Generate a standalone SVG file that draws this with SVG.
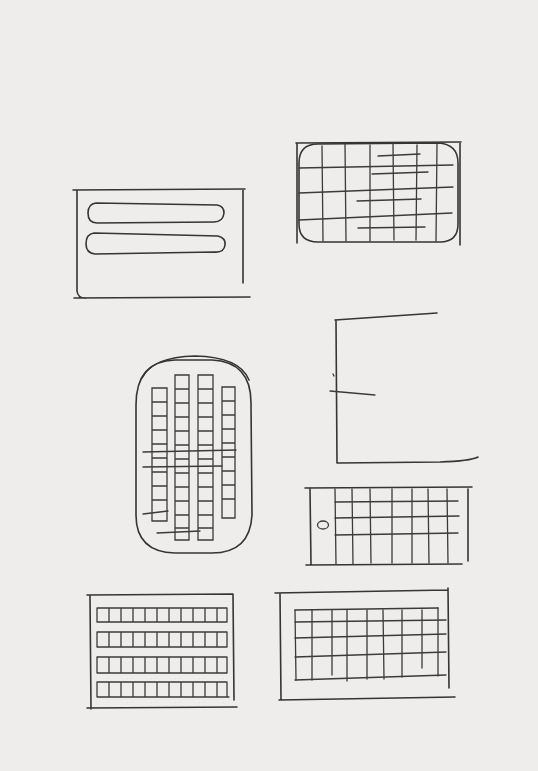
<svg xmlns="http://www.w3.org/2000/svg" width="538" height="771" viewBox="0 0 538 771">
<style>
.s{fill:none;stroke:#363434;stroke-width:1.6;stroke-linecap:round;stroke-linejoin:round}
.t{fill:none;stroke:#3c3a3a;stroke-width:1.3;stroke-linecap:round}
</style>
<rect width="538" height="771" fill="#efecec"/>
<g id="list-card">
<path class="s" d="M73,190 L245,189 M77,190 L77,291 Q78,299 87,298 M74,298 L250,297 M243,190 L243,283"/>
<path class="s" d="M96,203 L217,205 Q224,206 224,213 Q223,222 214,222 L97,223 Q88,223 88,213 Q88,204 96,203 Z"/>
<path class="s" d="M94,233 L218,236 Q226,238 225,245 Q224,253 214,252 L95,254 Q86,253 86,244 Q86,234 94,233 Z"/>
</g>
<g id="rounded-grid">
<path class="s" d="M318,144 L438,143 Q458,144 458,163 L458,224 Q458,242 440,242 L318,242 Q299,242 299,224 L299,163 Q299,144 318,144 Z"/>
<path class="s" d="M296,143 L461,142 M297,143 L297,243 M460,143 L460,245"/>
<path class="t" d="M322,146 L323,241 M345,144 L346,241 M370,145 L370,241 M393,144 L394,240 M417,145 L416,240 M437,144 L436,241"/>
<path class="t" d="M299,168 L453,165 M299,193 L453,187 M299,220 L452,213"/>
<path class="t" d="M378,156 L420,154 M372,174 L428,172 M357,201 L421,199 M358,228 L425,227"/>
</g>
<g id="pill-grid">
<path class="s" d="M175,360 L212,360 Q252,362 251,405 L252,515 Q250,553 212,553 L175,553 Q136,552 136,515 L136,405 Q136,361 175,360 Z"/>
<path class="s" d="M142,378 Q152,357 195,356 Q240,357 249,380"/>
<path class="t" d="M152,388 L167,388 L167,521 L152,521 Z M152,402 L167,402 M152,416 L167,416 M152,430 L167,430 M152,444 L167,444 M152,458 L167,458 M152,472 L167,472 M152,486 L167,486 M152,500 L167,500"/>
<path class="t" d="M175,375 L189,375 L189,540 L175,540 Z M175,389 L189,389 M175,403 L189,403 M175,417 L189,417 M175,431 L189,431 M175,445 L189,445 M175,459 L189,459 M175,473 L189,473 M175,487 L189,487 M175,501 L189,501 M175,515 L189,515 M175,528 L189,528"/>
<path class="t" d="M198,375 L213,375 L213,540 L198,540 Z M198,389 L213,389 M198,403 L213,403 M198,417 L213,417 M198,431 L213,431 M198,445 L213,445 M198,459 L213,459 M198,473 L213,473 M198,487 L213,487 M198,501 L213,501 M198,515 L213,515 M198,528 L213,528"/>
<path class="t" d="M222,387 L235,387 L235,518 L222,518 Z M222,401 L235,401 M222,415 L235,415 M222,429 L235,429 M222,443 L235,443 M222,457 L235,457 M222,471 L235,471 M222,485 L235,485 M222,499 L235,499"/>
<path class="t" d="M143,452 L236,450 M143,467 L222,466 M143,514 L168,511 M157,533 L200,531"/>
</g>
<g id="axes">
<path class="s" d="M335,320 Q380,317 437,313 M336,321 L337,463 M338,463 L440,462 Q470,461 478,457"/>
<path class="t" d="M330,391 L375,395 M333,374 L334,376"/>
</g>
<g id="phone-grid">
<path class="s" d="M305,488 L472,487 M310,489 L311,565 M306,565 L462,564 M468,489 L468,561"/>
<path class="t" d="M335,489 L336,564 M352,489 L353,564 M370,489 L371,563 M392,489 L392,563 M412,489 L412,563 M428,489 L429,563 M447,489 L448,563"/>
<path class="t" d="M335,502 L458,501 M335,518 L459,516 M335,535 L458,533"/>
<ellipse class="t" cx="323" cy="525" rx="5.5" ry="4"/>
</g>
<g id="rows-card">
<path class="s" d="M87,595 L233,594 M90,596 L91,709 M87,708 L237,707 M233,594 L234,700"/>
<g class="t">
<path d="M97,608 L227,608 M97,622 L227,622 M97,608 L97,622 M109,608 L109,622 M121,608 L121,622 M133,608 L133,622 M145,608 L145,622 M157,608 L157,622 M169,608 L169,622 M181,608 L181,622 M193,608 L193,622 M205,608 L205,622 M217,608 L217,622 M227,608 L227,622"/>
<path d="M97,632 L227,632 M97,647 L227,647 M97,632 L97,647 M109,632 L109,647 M121,632 L121,647 M133,632 L133,647 M145,632 L145,647 M157,632 L157,647 M169,632 L169,647 M181,632 L181,647 M193,632 L193,647 M205,632 L205,647 M217,632 L217,647 M227,632 L227,647"/>
<path d="M97,657 L227,657 M97,673 L227,673 M97,657 L97,673 M109,657 L109,673 M121,657 L121,673 M133,657 L133,673 M145,657 L145,673 M157,657 L157,673 M169,657 L169,673 M181,657 L181,673 M193,657 L193,673 M205,657 L205,673 M217,657 L217,673 M227,657 L227,673"/>
<path d="M97,682 L227,682 M97,697 L229,697 M97,682 L97,697 M109,682 L109,697 M121,682 L121,697 M133,682 L133,697 M145,682 L145,697 M157,682 L157,697 M169,682 L169,697 M181,682 L181,697 M193,682 L193,697 M205,682 L205,697 M217,682 L217,697 M227,682 L227,697"/>
</g>
</g>
<g id="table-card">
<path class="s" d="M275,593 L448,590 M280,594 L281,700 M279,700 L455,697 M448,588 L449,688"/>
<path class="t" d="M295,610 L438,608 M295,622 L446,620 M295,638 L446,634 M295,657 L446,652 M295,680 L446,675"/>
<path class="t" d="M295,610 L296,680 M312,610 L312,680 M332,610 L332,675 M347,610 L347,681 M367,610 L367,679 M383,610 L384,679 M402,610 L402,677 M422,610 L422,668 M438,608 L438,676"/>
</g>
</svg>
